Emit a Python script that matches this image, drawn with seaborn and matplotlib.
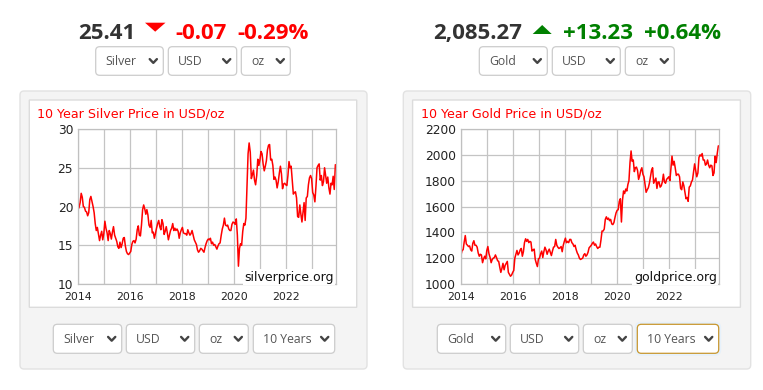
import numpy as np
import pandas as pd
import matplotlib
matplotlib.use("Agg")
import matplotlib.pyplot as plt
import seaborn as sns
from matplotlib.patches import FancyBboxPatch, Polygon

# ---------------- data (semi-monthly) ----------------
silver_2014 = [19.6, 19.9, 20.5, 21.7, 21.2, 20.0, 19.9, 19.4, 19.3, 18.8, 19.2, 20.9,
               21.3, 20.7, 20.0, 19.2, 17.8, 16.9, 17.3, 16.5, 15.6, 16.3, 16.8, 15.7]
silver_2015 = [16.5, 18.1, 17.2, 16.6, 15.6, 16.9, 16.5, 15.8, 16.7, 17.4, 16.3, 15.9,
               15.5, 14.8, 14.6, 15.4, 14.7, 15.2, 15.9, 16.0, 14.9, 14.2, 13.9, 13.8]
silver_2016 = [14.0, 14.2, 15.1, 15.5, 15.6, 15.3, 15.8, 17.0, 17.5, 16.3, 16.2, 17.6,
               19.6, 20.2, 19.7, 19.0, 19.6, 18.9, 17.6, 17.3, 18.2, 16.6, 16.7, 15.9]
silver_2017 = [16.5, 17.2, 17.8, 18.2, 17.4, 17.0, 18.3, 17.8, 16.4, 16.8, 17.4, 16.6,
               15.7, 16.3, 16.9, 17.2, 17.8, 16.9, 17.2, 16.9, 17.1, 16.8, 15.9, 16.6]
silver_2018 = [17.0, 17.3, 16.6, 16.5, 16.5, 16.3, 17.0, 16.6, 16.3, 16.5, 16.9, 16.3,
               15.7, 15.4, 15.1, 14.4, 14.1, 14.3, 14.6, 14.5, 14.3, 14.1, 14.7, 15.2]
silver_2019 = [15.6, 15.8, 15.7, 15.9, 15.2, 15.4, 15.0, 15.1, 14.8, 14.5, 14.9, 15.2,
               15.3, 16.3, 17.1, 17.6, 18.5, 17.6, 17.5, 17.6, 17.1, 16.9, 16.9, 17.7]
silver_2020 = [18.0, 17.9, 17.7, 18.4, 16.3, 12.3, 14.6, 15.2, 15.0, 16.8, 17.8, 17.6,
               18.5, 22.5, 26.8, 28.2, 27.0, 23.6, 24.1, 24.7, 23.4, 22.8, 24.0, 26.1]
silver_2021 = [25.3, 26.0, 27.1, 26.8, 25.5, 24.6, 25.2, 25.9, 27.3, 27.9, 28.0, 26.0,
               26.1, 25.3, 23.5, 23.8, 23.4, 22.4, 23.2, 24.3, 25.2, 24.2, 22.3, 22.9]
silver_2022 = [23.0, 22.8, 22.7, 24.0, 25.8, 25.0, 25.2, 23.5, 21.6, 21.8, 21.9, 21.1,
               18.7, 18.6, 20.2, 19.0, 18.0, 19.2, 20.5, 18.2, 21.1, 21.3, 22.8, 23.7]
silver_2023 = [24.0, 23.6, 21.8, 21.5, 20.6, 22.6, 25.0, 25.3, 25.5, 23.4, 24.0, 22.7,
               23.2, 25.0, 24.0, 23.0, 23.8, 22.4, 21.6, 23.0, 22.8, 23.9, 22.2, 25.4]

gold_2014 = [1225, 1260, 1265, 1325, 1375, 1310, 1300, 1290, 1295, 1265, 1255, 1315,
             1335, 1300, 1300, 1285, 1240, 1215, 1230, 1225, 1165, 1195, 1215, 1195]
gold_2015 = [1260, 1290, 1235, 1205, 1165, 1190, 1200, 1205, 1225, 1205, 1180, 1175,
             1130, 1090, 1120, 1160, 1110, 1145, 1160, 1175, 1090, 1075, 1060, 1070]
gold_2016 = [1090, 1105, 1200, 1230, 1260, 1225, 1240, 1265, 1275, 1215, 1250, 1320,
             1350, 1330, 1345, 1320, 1330, 1325, 1255, 1265, 1270, 1190, 1160, 1135]
gold_2017 = [1195, 1200, 1235, 1255, 1205, 1250, 1285, 1265, 1230, 1255, 1270, 1245,
             1220, 1255, 1285, 1290, 1345, 1300, 1285, 1275, 1280, 1290, 1250, 1300]
gold_2018 = [1330, 1355, 1320, 1330, 1320, 1345, 1345, 1320, 1310, 1290, 1300, 1265,
             1240, 1225, 1200, 1190, 1195, 1200, 1225, 1235, 1215, 1225, 1245, 1280]
gold_2019 = [1290, 1300, 1315, 1325, 1300, 1310, 1290, 1275, 1285, 1285, 1340, 1410,
             1410, 1425, 1500, 1520, 1500, 1510, 1490, 1500, 1465, 1460, 1475, 1515]
gold_2020 = [1550, 1570, 1575, 1640, 1660, 1480, 1650, 1720, 1700, 1735, 1720, 1770,
             1800, 1940, 2030, 1950, 1960, 1870, 1900, 1905, 1880, 1810, 1840, 1880]
gold_2021 = [1900, 1850, 1830, 1770, 1710, 1730, 1745, 1780, 1830, 1880, 1900, 1780,
             1800, 1820, 1740, 1790, 1790, 1750, 1760, 1790, 1850, 1790, 1780, 1810]
gold_2022 = [1820, 1830, 1800, 1900, 1990, 1920, 1950, 1900, 1840, 1850, 1850, 1830,
             1740, 1730, 1790, 1760, 1710, 1660, 1670, 1640, 1750, 1760, 1790, 1805]
gold_2023 = [1870, 1930, 1880, 1830, 1860, 1980, 2000, 1990, 2010, 1960, 1960, 1920,
             1930, 1960, 1920, 1900, 1920, 1915, 1840, 1860, 1990, 1940, 2010, 2070]

silver_prices = (silver_2014 + silver_2015 + silver_2016 + silver_2017 + silver_2018 +
                 silver_2019 + silver_2020 + silver_2021 + silver_2022 + silver_2023)
gold_prices = (gold_2014 + gold_2015 + gold_2016 + gold_2017 + gold_2018 +
               gold_2019 + gold_2020 + gold_2021 + gold_2022 + gold_2023)

start_date, end_date = "2014-01-01", "2023-12-01"
x_start, x_end = 2014.0, 2023.92
year_gridlines = list(range(2014, 2024))
year_labels = [str(y) if y % 2 == 0 else "" for y in year_gridlines]
silver_yticks = [10, 15, 20, 25, 30]
gold_yticks = [1000, 1200, 1400, 1600, 1800, 2000, 2200]

silver_quote = ["25.41", "-0.07", "-0.29%"]
gold_quote = ["2,085.27", "+13.23", "+0.64%"]
silver_titles = ["10 Year Silver Price in USD/oz", "silverprice.org"]
gold_titles = ["10 Year Gold Price in USD/oz", "goldprice.org"]
silver_top_menu = ["Silver", "USD", "oz"]
gold_top_menu = ["Gold", "USD", "oz"]
silver_bottom_menu = ["Silver", "USD", "oz", "10 Years"]
gold_bottom_menu = ["Gold", "USD", "oz", "10 Years"]

dates = pd.date_range(start_date, end_date, periods=len(silver_prices))
dec_year = dates.year + (dates.dayofyear - 1) / np.where(dates.is_leap_year, 366, 365)
df = pd.DataFrame({"year": dec_year, "silver": silver_prices, "gold": gold_prices})

# ---------------- figure ----------------
sns.set_theme(style="white")
plt.rcParams["font.family"] = ["DejaVu Sans"]

W, H = 763, 390
fig = plt.figure(figsize=(W / 100, H / 100), dpi=100)
fig.patch.set_facecolor("white")
bg = fig.add_axes([0, 0, 1, 1], zorder=0)
bg.set_xlim(0, W)
bg.set_ylim(H, 0)
bg.axis("off")


def rbox(x0, y0, x1, y1, fc, ec, r=4, lw=1.0, z=1):
    p = FancyBboxPatch((x0, y0), x1 - x0, y1 - y0,
                       boxstyle=f"round,pad=0,rounding_size={r}",
                       fc=fc, ec=ec, lw=lw, zorder=z)
    bg.add_patch(p)


def dropdown(x0, y0, x1, y1, label, ec="#cccccc", glow=False):
    if glow:
        rbox(x0 - 2.5, y0 - 2.5, x1 + 2.5, y1 + 2.5, "#e6f1fb", "none", r=6, z=2)
    rbox(x0, y0, x1, y1, "white", ec, r=4, lw=0.9, z=3)
    cy = (y0 + y1) / 2
    bg.text(x0 + 10, cy + 0.5, label, fontsize=8.8, color="#555555",
            family=["Open Sans", "DejaVu Sans"], va="center", ha="left", zorder=4)
    cx = x1 - 10
    bg.plot([cx - 3.6, cx, cx - 3.6 + 7.2], [cy - 1.9, cy + 1.9, cy - 1.9],
            color="#444444", lw=1.7, solid_capstyle="round", zorder=4)


def header(xs, texts, color, tri, base=39.3):
    bg.text(xs[0], base, texts[0], fontsize=16, fontweight="bold", color="#333333",
            family=["Open Sans", "DejaVu Sans"], va="baseline", ha="left")
    bg.text(xs[1], base, texts[1], fontsize=16, fontweight="bold", color=color,
            family=["Open Sans", "DejaVu Sans"], va="baseline", ha="left")
    bg.text(xs[2], base, texts[2], fontsize=16, fontweight="bold", color=color,
            family=["Open Sans", "DejaVu Sans"], va="baseline", ha="left")
    bg.add_patch(Polygon(tri, closed=True, fc=color, ec="none"))


def chart(px0, series, ylim, yticks, titles, title_x):
    ax = fig.add_axes([px0 / W, 1 - 284 / H, 257.5 / W, 155 / H], zorder=2)
    ax.set_facecolor("white")
    sns.lineplot(data=df, x="year", y=series, ax=ax, color="#ff0000", lw=1.1)
    ax.set_xlim(x_start, x_end)
    ax.set_ylim(*ylim)
    ax.set_xticks(year_gridlines)
    ax.set_xticklabels(year_labels)
    ax.set_yticks(yticks)
    ax.set_xlabel("")
    ax.set_ylabel("")
    ax.grid(True, color="#c4c4c4", lw=0.9)
    ax.set_axisbelow(True)
    ax.tick_params(axis="both", length=0, colors="#222222")
    ax.tick_params(axis="x", labelsize=7.8, pad=5.5)
    ax.tick_params(axis="y", labelsize=8.8, pad=3.5)
    for s in ax.spines.values():
        s.set_color("#c0c0c0")
        s.set_linewidth(0.9)
    ax.text(0.993, 0.022, titles[1], transform=ax.transAxes, ha="right", va="baseline",
            fontsize=9.0, color="#111111",
            bbox=dict(fc="white", ec="none", pad=1.0))
    bg.text(title_x, 117.3, titles[0], color="#ff0000", fontsize=9.1, va="baseline", ha="left")
    return ax


# panels
for x0, x1 in [(20, 367), (403.3, 750.7)]:
    rbox(x0, 91, x1, 369, "#f4f4f4", "#e2e2e2", r=4, lw=1.0)
    rbox(x0 + 9.3, 100, x1 - 10.3, 307.3, "white", "#dcdcdc", r=0, lw=1.0)

# headers
header([77.7, 175.7, 237.3], silver_quote, "#ff0000",
       [(145, 22.7), (165.5, 22.7), (155.2, 31.7)])
header([433.3, 562.7, 644.0], gold_quote, "#008000",
       [(532.7, 34), (551.7, 34), (542.2, 25)])

# top menus
for (a, b), lab in zip([(95.7, 163.3), (168.3, 236.7), (241.3, 290.3)], silver_top_menu):
    dropdown(a, 46.7, b, 75.3, lab)
for (a, b), lab in zip([(479.3, 547.3), (552.3, 620.3), (625.3, 674.3)], gold_top_menu):
    dropdown(a, 46.7, b, 75.3, lab)

# bottom menus
for (a, b), lab in zip([(53.3, 121.7), (126.3, 194.7), (199.3, 248.3), (253.3, 334.7)],
                       silver_bottom_menu):
    dropdown(a, 324.3, b, 353.3, lab)
for i, ((a, b), lab) in enumerate(zip([(437.3, 505.7), (510.3, 578.7), (583.3, 632.3),
                                        (637.3, 718.7)], gold_bottom_menu)):
    if i == 3:
        dropdown(a, 324.3, b, 353.3, lab, ec="#c8962e", glow=True)
    else:
        dropdown(a, 324.3, b, 353.3, lab)

chart(78, "silver", (10, 30), silver_yticks, silver_titles, 37.3)
chart(461, "gold", (1000, 2200), gold_yticks, gold_titles, 421.0)

fig.savefig("out.png", dpi=100, facecolor="white")
